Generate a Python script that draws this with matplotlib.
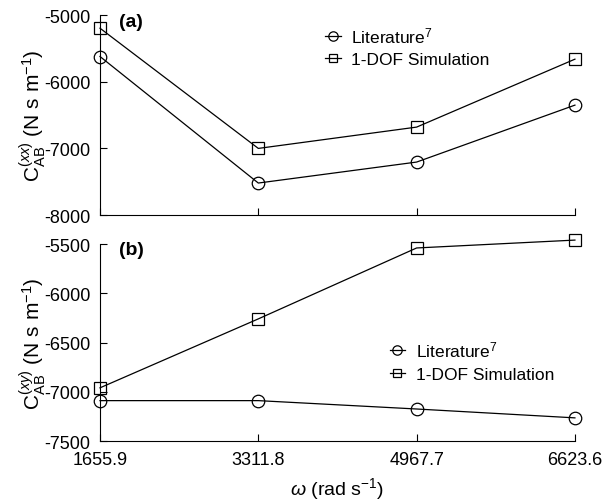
import matplotlib
matplotlib.use('Agg')
import matplotlib.pyplot as plt

plt.rcParams['font.family'] = ['Liberation Sans', 'DejaVu Sans']
plt.rcParams['mathtext.fontset'] = 'custom'
plt.rcParams['mathtext.rm'] = 'Liberation Sans'
plt.rcParams['mathtext.it'] = 'Liberation Sans:italic'
plt.rcParams['mathtext.default'] = 'regular'
plt.rcParams['axes.unicode_minus'] = False

omega = [1655.9, 3311.8, 4967.7, 6623.6]
omega_labels = ['1655.9', '3311.8', '4967.7', '6623.6']

# damping coefficient C_AB^(xx)
lit_xx = [-5620, -7520, -7205, -6350]
sim_xx = [-5195, -7000, -6680, -5660]

# damping coefficient C_AB^(xy)
lit_xy = [-7090, -7090, -7175, -7265]
sim_xy = [-6960, -6260, -5540, -5460]

fig = plt.figure(figsize=(6.05, 5.02), dpi=100)
ax_a = fig.add_axes([0.1653, 0.5697, 0.785, 0.398])
ax_b = fig.add_axes([0.1653, 0.1195, 0.785, 0.3924])

def style_axis(ax):
    for side in ['top', 'right']:
        ax.spines[side].set_visible(False)
    ax.tick_params(direction='in', length=5, labelsize=13, width=0.8)
    ax.tick_params(axis='y', pad=7)
    ax.tick_params(axis='x', pad=7)
    ax.set_xlim(omega[0], omega[-1])
    ax.set_xticks(omega)

def draw_series(ax, lit, sim):
    ax.plot(omega, lit, color='k', lw=0.9, marker='o', ms=9, mfc='none',
            mec='k', mew=0.9, clip_on=False, label='Literature$^7$')
    ax.plot(omega, sim, color='k', lw=0.9, marker='s', ms=8, mfc='none',
            mec='k', mew=0.9, clip_on=False, label='1-DOF Simulation')

def add_legend(ax, anchor):
    ax.legend(loc='upper left', bbox_to_anchor=anchor, frameon=False,
              fontsize=12.5, handlelength=0.9, handletextpad=0.6,
              labelspacing=0.4, borderaxespad=0, markerscale=0.75)

draw_series(ax_a, lit_xx, sim_xx)
style_axis(ax_a)
ax_a.set_ylim(-8000, -5000)
ax_a.set_yticks([-8000, -7000, -6000, -5000])
ax_a.set_xticklabels([])
ax_a.set_ylabel(r'$C_{AB}^{(\mathit{xx})}$ (N s m$^{-1}$)', fontsize=15, labelpad=-3)
ax_a.text(0.04, 0.97, '(a)', transform=ax_a.transAxes, fontsize=14,
          fontweight='bold', va='center', ha='left')
add_legend(ax_a, (0.46, 0.985))

draw_series(ax_b, lit_xy, sim_xy)
style_axis(ax_b)
ax_b.set_ylim(-7500, -5500)
ax_b.set_yticks([-7500, -7000, -6500, -6000, -5500])
ax_b.set_xticklabels(omega_labels)
ax_b.set_ylabel(r'$C_{AB}^{(\mathit{xy})}$ (N s m$^{-1}$)', fontsize=15, labelpad=-3)
ax_b.set_xlabel(r'$\mathit{\omega}$ (rad s$^{-1}$)', fontsize=14, labelpad=5)
ax_b.text(0.04, 0.97, '(b)', transform=ax_b.transAxes, fontsize=14,
          fontweight='bold', va='center', ha='left')
add_legend(ax_b, (0.595, 0.55))

fig.savefig('out.png', dpi=100)
